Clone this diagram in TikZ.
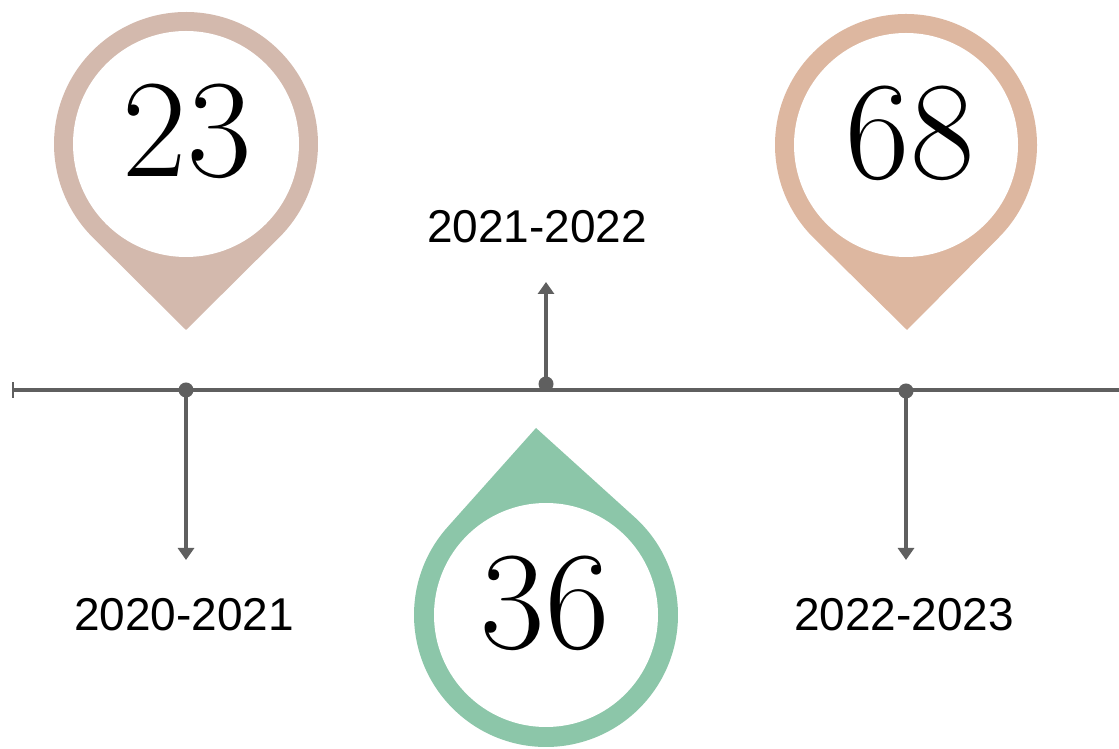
\documentclass[tikz,border=0pt]{standalone}
\usepackage{fontspec}
\newfontfamily\labelfont{Liberation Sans}
\usetikzlibrary{arrows.meta}
\definecolor{pinA}{HTML}{D3B9AD}
\definecolor{pinC}{HTML}{DDB7A0}
\definecolor{pinB}{HTML}{8CC6A9}
\definecolor{lineGray}{HTML}{5F5F5F}
\begin{document}
\begin{tikzpicture}[x=1pt,y=1pt,
  axis/.style={draw=lineGray, line width=3.8pt},
  dotnode/.style={circle, fill=lineGray, inner sep=0pt, minimum size=15pt},
  arrowline/.style={draw=lineGray, line width=3.2pt, -{Triangle[width=16pt,length=12pt]}},
  yearlabel/.style={font=\labelfont\fontsize{46}{46}\selectfont, inner sep=0pt, text=black},
  numlabel/.style={font=\fontsize{140}{140}\selectfont, inner sep=0pt, text=black},
  innercircle/.style={fill=white}
]
\useasboundingbox (0,0) rectangle (1119,749);
\fill[white] (0,0) rectangle (1119,749);

% pins
\coordinate (cA) at (186,605);
\coordinate (tA) at (186,419);
\fill[pinA] (tA) -- ([shift={(-45.2:132)}]cA) arc[start angle=-45.2, end angle=225.2, radius=132] -- cycle;
\fill[innercircle] (cA) circle[radius=113];
\node[numlabel] (n23) at (187,618) {23};

\coordinate (cC) at (906,604);
\coordinate (tC) at (907,419);
\fill[pinC] (tC) -- ([shift={(-45:131)}]cC) arc[start angle=-45, end angle=225, radius=131] -- cycle;
\fill[innercircle] (cC) circle[radius=112];
\node[numlabel] (n68) at (910,616) {68};

\coordinate (cB) at (546,134);
\coordinate (tB) at (536,321);
\fill[pinB] (tB) -- ([shift={(138.26:132)}]cB) arc[start angle=138.26, end angle=407.86, radius=132] -- cycle;
\fill[innercircle] (cB) circle[radius=112];
\node[numlabel] (n36) at (545,146) {36};

% timeline
\coordinate (lstart) at (13,359);
\coordinate (lend) at (1119,359);
\draw[axis] (lstart) -- (lend);
\coordinate (tickT) at (13,367);
\coordinate (tickB) at (13,351);
\draw[draw=lineGray, line width=2.5pt] (tickB) -- (tickT);

\node[dotnode] (d1) at (186,359) {};
\node[dotnode] (d2) at (546,365) {};
\node[dotnode] (d3) at (906,358) {};

\coordinate (a1) at (186,189);
\coordinate (a2) at (546,467);
\coordinate (a3) at (906,189);
\draw[arrowline] (d1.center) -- (a1);
\draw[arrowline] (d2.center) -- (a2);
\draw[arrowline] (d3.center) -- (a3);

\node[yearlabel] (y1) at (184,134) {2020-2021};
\node[yearlabel] (y2) at (537,522) {2021-2022};
\node[yearlabel] (y3) at (904,134) {2022-2023};
\end{tikzpicture}
\end{document}
